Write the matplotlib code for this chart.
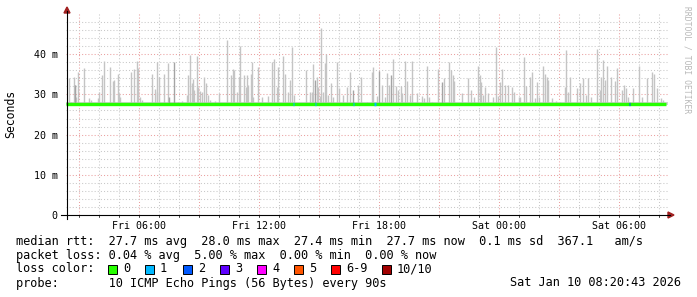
import matplotlib
matplotlib.use("Agg")
import matplotlib.pyplot as plt
from matplotlib.patches import Rectangle, Polygon
from matplotlib.lines import Line2D

# x axis is hours since Fri 00:00
start_h = 2.35
end_h = 32.45
tick_hours = [6, 12, 18, 24, 30]
tick_labels = ["Fri 06:00", "Fri 12:00", "Fri 18:00", "Sat 00:00", "Sat 06:00"]
ytick_ms = [0, 10, 20, 30, 40]
ytick_labels = ["0", "10 m", "20 m", "30 m", "40 m"]

# median rtt read roughly once per hour (ms)
median_hours = [2.35, 3.35, 4.35, 5.35, 6.35, 7.35, 8.35, 9.35, 10.35, 11.35, 12.35,
                13.35, 14.35, 15.35, 16.35, 17.35, 18.35, 19.35, 20.35, 21.35, 22.35,
                23.35, 24.35, 25.35, 26.35, 27.35, 28.35, 29.35, 30.35, 31.35, 32.35]
median_ms = [27.7, 27.7, 27.7, 27.7, 27.7, 27.7, 27.7, 27.7, 27.7, 27.7, 27.7,
             27.7, 27.7, 27.7, 27.7, 27.7, 27.7, 27.7, 27.7, 27.7, 27.7,
             27.7, 27.7, 27.7, 27.7, 27.7, 27.7, 27.7, 27.7, 27.7, 27.7]

# smoke spikes: time (h) and max ping (ms)
spike_hours = [
    2.52, 2.60, 2.75, 2.80, 2.85, 2.97, 3.25, 3.50, 3.58, 3.97, 4.02, 4.15, 4.27, 4.55,
    4.68, 4.75, 4.97, 5.02, 5.05, 5.60, 5.73, 5.88, 5.93, 6.05, 6.13, 6.67, 6.80, 6.88,
    6.92, 7.00, 7.25, 7.47, 7.93, 8.13, 8.38, 8.47, 8.57, 8.63, 8.72, 8.77, 8.88, 8.97,
    9.05, 9.13, 9.27, 9.37, 9.43, 9.55, 9.80, 10.00,
    10.38, 10.60, 10.72, 10.77, 10.88, 11.00, 11.07, 11.23, 11.33, 11.38, 11.47, 11.60,
    11.67, 11.72, 11.97, 12.13, 12.47, 12.67, 12.77, 12.88, 12.97, 13.20, 13.30, 13.43,
    13.55, 13.67, 13.77, 14.37, 14.55, 14.63, 14.72, 14.88, 14.97, 15.05, 15.12, 15.22,
    15.30, 15.37, 15.47, 15.58, 15.72, 15.88, 16.00, 16.18, 16.38, 16.55, 16.97, 17.10,
    17.38, 17.63, 17.68, 17.88, 18.13, 18.30, 18.42, 18.52, 18.72, 18.85, 18.97, 19.10,
    19.13, 19.30, 19.42, 19.55, 19.67, 19.88, 20.17, 20.27, 20.42, 20.50, 20.63, 20.97,
    21.27, 21.50, 21.60, 21.72, 21.77, 22.13, 22.47, 22.60, 22.77, 22.97, 23.05, 23.10,
    23.22, 23.30, 23.47, 23.72, 23.85, 23.97, 24.05, 24.17, 24.30, 24.47, 24.63, 24.77,
    25.00, 25.05, 25.27, 25.35, 25.55, 25.63, 25.80, 25.92, 26.02, 26.22, 26.30, 26.38,
    26.43, 26.67, 26.83, 27.05, 27.30, 27.37, 27.43, 27.57, 27.92, 28.05, 28.18, 28.33,
    28.43, 28.60, 28.92, 29.05, 29.10, 29.22, 29.30, 29.38, 29.58, 29.80, 29.88, 30.13,
    30.27, 30.35, 30.47, 30.72, 31.00, 31.13, 31.38, 31.63, 31.73, 31.88, 32.10, 32.22]
spike_ms = [
    34.2, 28.2, 34.4, 32.3, 29.4, 35.6, 36.6, 29.0, 28.6, 29.2, 30.7, 34.8, 38.3, 36.7,
    33.4, 33.6, 35.2, 30.3, 29.4, 35.6, 36.2, 38.3, 36.5, 29.3, 28.6, 35.0, 31.4, 30.7,
    38.1, 34.3, 35.2, 37.9, 28.2, 28.3, 29.9, 34.8, 39.8, 32.8, 33.8, 31.1, 39.6, 31.9,
    30.9, 30.7, 34.4, 32.8, 29.9, 28.6, 28.3, 30.3,
    43.5, 34.8, 36.2, 36.1, 30.7, 34.4, 42.0, 34.8, 31.9, 34.8, 32.3, 35.2,
    38.0, 29.4, 36.9, 29.4, 29.7, 38.1, 38.8, 31.9, 36.9, 39.6, 35.2, 30.7,
    33.6, 41.9, 29.9, 36.1, 30.5, 30.5, 37.5, 34.4, 31.9, 29.7, 46.6, 30.7,
    37.7, 40.0, 29.9, 32.8, 29.4, 38.1, 31.5, 29.9, 31.9, 35.6, 32.3, 34.4,
    28.2, 35.6, 36.9, 29.7, 32.3, 29.4, 35.4, 32.3, 38.8, 32.2, 31.1, 32.2,
    30.3, 38.3, 33.4, 29.9, 38.3, 30.3, 29.7, 29.0, 37.1, 29.4, 28.2, 36.3,
    34.0, 38.1, 36.1, 34.8, 33.4, 30.3, 34.0, 31.1, 29.4, 37.1, 34.8, 33.2,
    29.9, 31.9, 30.3, 29.4, 41.9, 29.7, 33.2, 36.3, 32.3, 32.3, 31.9, 30.7,
    29.4, 29.4, 39.4, 32.2, 34.4, 35.5, 29.0, 33.2, 29.4, 37.1, 35.2, 34.4,
    33.6, 29.0, 28.3, 28.2, 31.9, 41.0, 30.7, 34.4, 31.7, 32.8, 34.0, 29.9,
    34.0, 29.4, 41.3, 31.1, 34.4, 38.6, 33.6, 37.1, 34.4, 33.4, 36.6, 31.1,
    32.3, 31.7, 29.4, 31.5, 37.1, 29.4, 34.0, 35.6, 35.2, 31.7, 29.0, 28.6]
dark_spike_hours = [2.80, 7.50, 7.77, 14.80, 16.72, 18.02, 18.60, 21.17]
dark_spike_ms = [32.3, 29.4, 38.1, 33.6, 31.1, 35.8, 34.8, 33.0]
smoke_floor = 27.4
smoke_band_top = 28.1

# short stretches with packet loss
loss_hours = [13.72, 14.83, 16.72, 17.80, 30.52]
loss_level = [1, 1, 1, 1, 2]

loss_names = ["0", "1", "2", "3", "4", "5", "6-9", "10/10"]
loss_colors = ["#26ff00", "#00b8ff", "#0059ff", "#5e00ff", "#ff00ff", "#ff5500", "#ff0000", "#a10000"]

W, H = 697, 297
fig = plt.figure(figsize=(W / 100, H / 100), dpi=100)
fig.patch.set_facecolor("white")


def fx(px):
    return px / W


def fy(py):
    return 1 - py / H


ax = fig.add_axes([fx(66), fy(215), fx(668) - fx(66), (215 - 12) / H])
ax.set_xlim(start_h, end_h)
ax.set_ylim(0, 50.5)

# grid
minor_c = "#c8c8c8"
major_c = "#eaa0a0"
for h in range(3, 33):
    c = major_c if h % 3 == 0 else minor_c
    ax.axvline(h, color=c, lw=0.75, ls=(0, (1, 2)), zorder=0)
for m in range(2, 50, 2):
    c = major_c if m % 10 == 0 else minor_c
    ax.axhline(m, color=c, lw=0.75, ls=(0, (1, 2)), zorder=0)

# smoke
ax.fill_between([start_h, end_h], smoke_floor, smoke_band_top, color="#d4d4d4", lw=0, zorder=1)
ax.vlines(spike_hours, smoke_floor, spike_ms, colors="#c4c4c4", linewidth=1.0, zorder=2)
ax.vlines(dark_spike_hours, smoke_floor, dark_spike_ms, colors="#a4a4a4", linewidth=1.0, zorder=2)

# median line coloured by loss
ax.plot(median_hours, median_ms, color=loss_colors[0], lw=2.4, solid_capstyle="butt", zorder=3)
for h, lvl in zip(loss_hours, loss_level):
    ax.plot([h - 0.04, h + 0.04], [27.7, 27.7], color=loss_colors[lvl], lw=2.4,
            solid_capstyle="butt", zorder=4)

for s in ax.spines.values():
    s.set_visible(False)
ax.set_xticks(tick_hours)
ax.set_xticklabels(tick_labels, family="DejaVu Sans Mono", fontsize=7.2)
ax.set_yticks(ytick_ms)
ax.set_yticklabels(ytick_labels, family="DejaVu Sans Mono", fontsize=7.2)
ax.tick_params(axis="x", length=0, pad=4)
ax.tick_params(axis="y", length=0, pad=6)

# axis lines with arrows
fig.add_artist(Line2D([fx(61), fx(670)], [fy(215), fy(215)], color="black", lw=0.8))
fig.add_artist(Line2D([fx(67), fx(67)], [fy(219), fy(11)], color="black", lw=0.8))
fig.add_artist(Polygon([[fx(668), fy(212)], [fx(674), fy(215)], [fx(668), fy(218)]],
                       closed=True, color="#a02020"))
fig.add_artist(Polygon([[fx(64), fy(13)], [fx(67), fy(7)], [fx(70), fy(13)]],
                       closed=True, color="#a02020"))
for h in range(3, 33):
    x = fx(139 + (h - 6) * 20)
    fig.add_artist(Line2D([x, x], [fy(215), fy(217)], color="black", lw=0.5))

fig.text(fx(11), fy(114), "Seconds", rotation=90, ha="center", va="center",
         family="DejaVu Sans Mono", fontsize=8.3)
fig.text(fx(687), fy(60), "RRDTOOL / TOBI OETIKER", rotation=270, ha="center", va="center",
         family="DejaVu Sans Mono", fontsize=5.8, color="#b8b8b8")

mono = dict(family="DejaVu Sans Mono", fontsize=8.55, va="center", ha="left")
fig.text(fx(16), fy(241), "median rtt:  27.7 ms avg  28.0 ms max  27.4 ms min  27.7 ms now  0.1 ms sd  367.1   am/s", **mono)
fig.text(fx(16), fy(256), "packet loss: 0.04 % avg  5.00 % max  0.00 % min  0.00 % now", **mono)
fig.text(fx(16), fy(269), "loss color:", **mono)
fig.text(fx(16), fy(283), "probe:       10 ICMP Echo Pings (56 Bytes) every 90s", **mono)
fig.text(fx(681), fy(283), "Sat Jan 10 08:20:43 2026", family="DejaVu Sans Mono", fontsize=8.55,
         va="center", ha="right")

sq_x = [108, 145, 183, 220, 257, 294, 331, 382]
for x, name, c in zip(sq_x, loss_names, loss_colors):
    fig.add_artist(Rectangle((fx(x), fy(274)), 9 / W, 9 / H, facecolor=c, edgecolor="black", lw=0.7))
    fig.text(fx(x + 15), fy(269), name, **mono)

fig.savefig("out.png", dpi=100, facecolor="white")
